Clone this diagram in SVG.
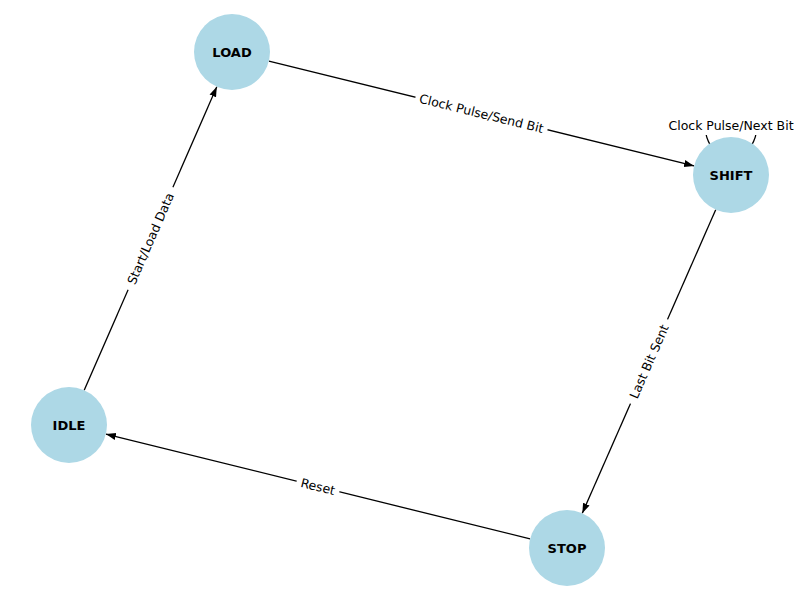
<svg xmlns="http://www.w3.org/2000/svg" width="800" height="600" viewBox="0 0 800 600">
<defs>
<marker id="arr" viewBox="0 0 10 10" refX="10" refY="5" markerWidth="10" markerHeight="10" markerUnits="userSpaceOnUse" orient="auto">
<path d="M0,1.5 L10,5 L0,8.5 Z" fill="#000"/>
</marker>
</defs>
<style>
.edge{stroke:#000;stroke-width:1.3;fill:none}
.node{fill:#add8e6}
.nl{font-family:"DejaVu Sans",sans-serif;font-size:13px;font-weight:bold;text-anchor:middle;dominant-baseline:central;fill:#000}
.el{font-family:"DejaVu Sans",sans-serif;font-size:12.5px;text-anchor:middle;dominant-baseline:central;fill:#000}
.bg{fill:#fff}
</style>
<rect width="800" height="600" fill="#fff"/>
<g id="connectors">
<path class="edge" d="M715,152 C700,132 703,120 731,120 C759,120 762,132 747,152"/>
<line class="edge" x1="268.9" y1="61.1" x2="694.1" y2="165.9" marker-end="url(#arr)"/>
<line class="edge" x1="715.7" y1="209.8" x2="582.3" y2="513.2" marker-end="url(#arr)"/>
<line class="edge" x1="530.1" y1="538.9" x2="105.9" y2="434.1" marker-end="url(#arr)"/>
<line class="edge" x1="84.2" y1="390.2" x2="216.8" y2="86.8" marker-end="url(#arr)"/>
<g transform="translate(481.5,113.5) rotate(13.85)">
<rect class="bg" x="-68" y="-8" width="136" height="16"/>
<text class="el" x="0" y="0">Clock Pulse/Send Bit</text>
</g>
<g transform="translate(649,361.5) rotate(-66.3)">
<rect class="bg" x="-46" y="-8" width="92" height="16"/>
<text class="el" x="0" y="0">Last Bit Sent</text>
</g>
<g transform="translate(318,486.5) rotate(13.87)">
<rect class="bg" x="-22" y="-8" width="44" height="16"/>
<text class="el" x="0" y="0">Reset</text>
</g>
<g transform="translate(150.5,238.5) rotate(-66.4)">
<rect class="bg" x="-56" y="-8" width="112" height="16"/>
<text class="el" x="0" y="0">Start/Load Data</text>
</g>
<g>
<rect class="bg" x="664" y="112" width="134" height="23"/>
<text class="el" x="731" y="125">Clock Pulse/Next Bit</text>
</g>
</g>
<g id="node-LOAD"><circle class="node" cx="232" cy="52" r="38"/><text class="nl" x="232" y="52">LOAD</text></g>
<g id="node-SHIFT"><circle class="node" cx="731" cy="175" r="38"/><text class="nl" x="731" y="175">SHIFT</text></g>
<g id="node-IDLE"><circle class="node" cx="69" cy="425" r="38"/><text class="nl" x="69" y="425">IDLE</text></g>
<g id="node-STOP"><circle class="node" cx="567" cy="548" r="38"/><text class="nl" x="567" y="548">STOP</text></g>
</svg>
